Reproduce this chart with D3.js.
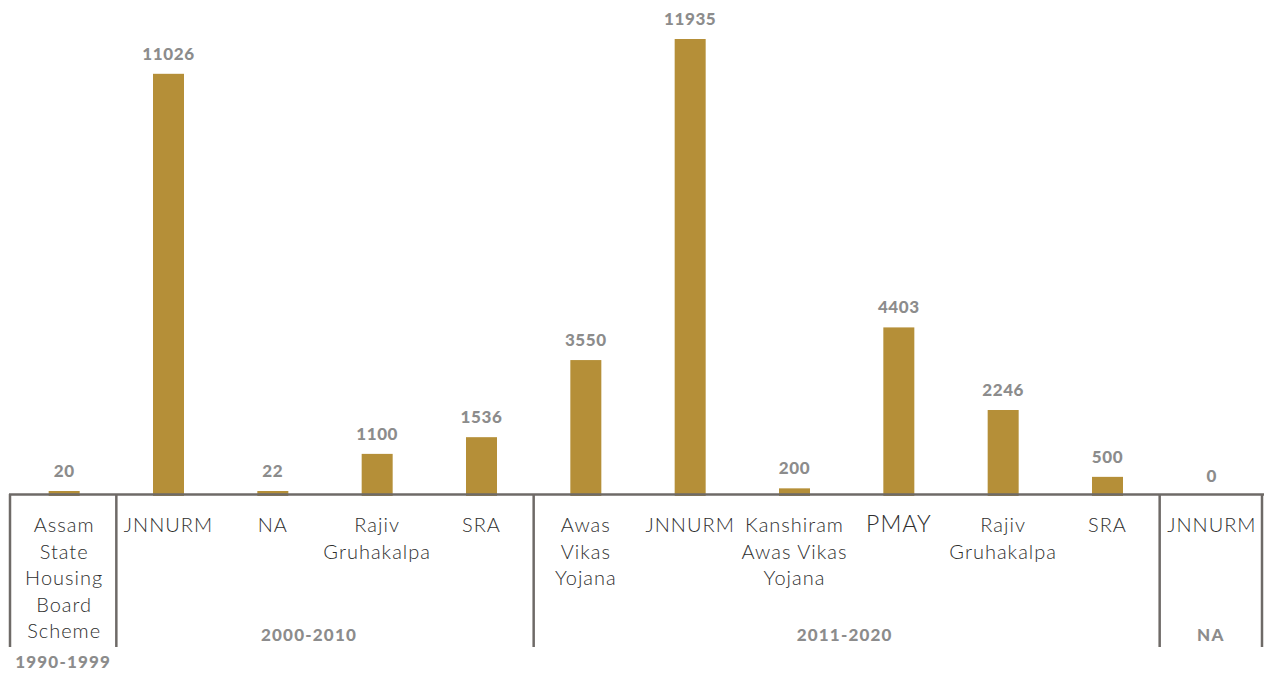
<!DOCTYPE html>
<html><head><meta charset="utf-8">
<script src="https://cdn.jsdelivr.net/npm/d3@7"></script>
<style>body{margin:0;background:#fff;} svg{display:block;}</style>
</head><body>
<script>
const categories = ["Assam State Housing Board Scheme","JNNURM","NA","Rajiv Gruhakalpa","SRA","Awas Vikas Yojana","JNNURM","Kanshiram Awas Vikas Yojana","PMAY","Rajiv Gruhakalpa","SRA","JNNURM"];
const categoryLines = [["Assam","State","Housing","Board","Scheme"],["JNNURM"],["NA"],["Rajiv","Gruhakalpa"],["SRA"],["Awas","Vikas","Yojana"],["JNNURM"],["Kanshiram","Awas Vikas","Yojana"],["PMAY"],["Rajiv","Gruhakalpa"],["SRA"],["JNNURM"]];
const values = [20,11026,22,1100,1536,3550,11935,200,4403,2246,500,0];
const groups = ["1990-1999","2000-2010","2011-2020","NA"];
const groupSizes = [1,4,6,1];

const W=1264,H=673;
const svg=d3.select("body").append("svg").attr("width",W).attr("height",H);
const baseY=496, left=11, right=1263;
const x=d3.scaleBand().domain(d3.range(categories.length)).range([left,right]).paddingInner(0).paddingOuter(0);
const y=d3.scaleLinear().domain([0,11935]).range([baseY,39]);
const bw=31, minH=5;
const barColor="#b58f38", lineColor="#6e6a67", valColor="#8c8c8c";
const cx=i=>x(i)+x.bandwidth()/2+1;
const barTop=d=> d>0 ? Math.min(y(d), baseY-minH) : baseY;

svg.selectAll("rect.bar").data(values).join("rect").attr("class","bar")
  .attr("x",(d,i)=>cx(i)-bw/2).attr("width",bw)
  .attr("y",d=>barTop(d)).attr("height",d=>baseY-barTop(d)).attr("fill",barColor);

svg.selectAll("text.val").data(values).join("text").attr("class","val")
  .attr("x",(d,i)=>cx(i)).attr("y",d=>barTop(d)-14)
  .attr("text-anchor","middle").attr("font-family","Lato").attr("font-weight","900")
  .attr("font-size",17).attr("letter-spacing","0.6px").attr("fill",valColor).text(d=>d);

// axis line
svg.append("line").attr("x1",9).attr("x2",W).attr("y1",494.5).attr("y2",494.5).attr("stroke",lineColor).attr("stroke-width",2.5);

// group separators
let idx=0; const bounds=[0];
groupSizes.forEach(s=>{idx+=s;bounds.push(idx);});
const sepX=b=> b===0 ? 10 : (b<categories.length ? x(b)+1 : right-1);
bounds.forEach(b=>{
  svg.append("line").attr("x1",sepX(b)).attr("x2",sepX(b)).attr("y1",494).attr("y2",647).attr("stroke",lineColor).attr("stroke-width",2.5);
});

// category labels
const labelSizes = categories.map(c=>c==="PMAY"?23:20);
categoryLines.forEach((lines,i)=>{
  const t=svg.append("text").attr("x",cx(i)).attr("y",532)
    .attr("text-anchor","middle").attr("font-family","Lato").attr("font-weight","300")
    .attr("font-size",labelSizes[i]).attr("letter-spacing","1px").attr("fill","#2e2e2e");
  lines.forEach((l,j)=>t.append("tspan").attr("x",cx(i)).attr("dy",j===0?0:26.5).text(l));
});

// group labels
const groupY=[668,641,641,641];
const groupDx=[0,-16,-2,0];
groups.forEach((g,k)=>{
  const x0=sepX(bounds[k]), x1=sepX(bounds[k+1]);
  svg.append("text").attr("x",(x0+x1)/2+groupDx[k]).attr("y",groupY[k]).attr("text-anchor","middle")
    .attr("font-family","Lato").attr("font-weight","900").attr("font-size",17).attr("letter-spacing","1.2px")
    .attr("fill",valColor).text(g);
});
</script>
</body></html>
